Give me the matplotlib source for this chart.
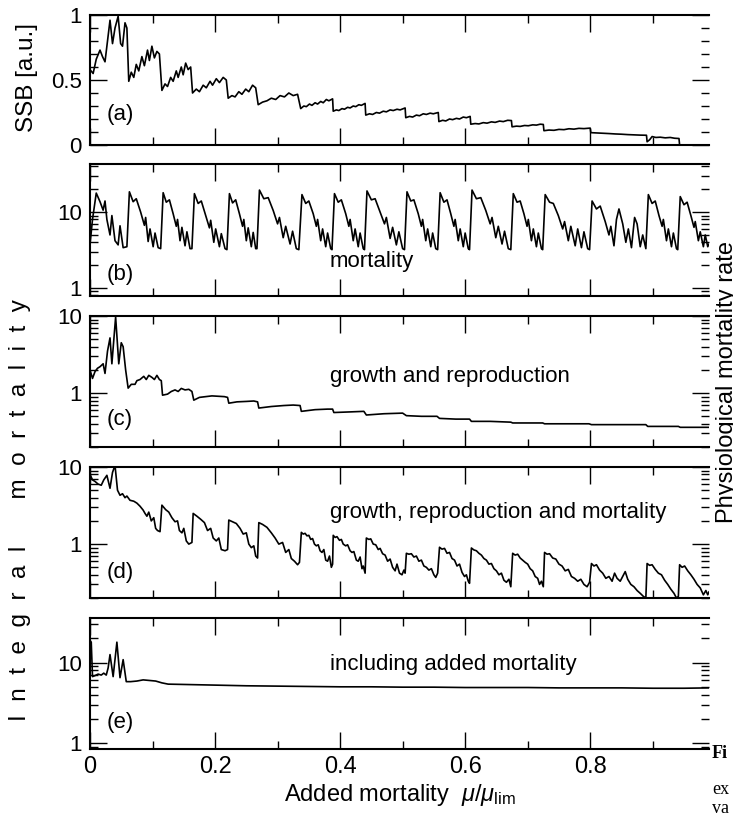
import matplotlib
matplotlib.use("Agg")
import matplotlib.pyplot as plt
from matplotlib.ticker import FixedLocator, MultipleLocator, LogLocator, NullFormatter

plt.rcParams['font.family'] = ['Liberation Sans', 'DejaVu Sans']
plt.rcParams['mathtext.fontset'] = 'custom'
plt.rcParams['mathtext.rm'] = 'Liberation Sans'
plt.rcParams['mathtext.it'] = 'Liberation Sans:italic'

# === 1. Data ===
# (a) spawning stock biomass
ssb_pts = [
    (0.000, 0.58), (0.005, 0.55), (0.010, 0.66), (0.016, 0.73), (0.020, 0.68), (0.024, 0.64),
    (0.028, 0.80), (0.032, 0.96), (0.036, 0.78), (0.040, 0.90), (0.045, 0.99), (0.049, 0.78),
    (0.052, 0.76), (0.056, 0.94), (0.059, 0.90), (0.062, 0.49),
    (0.066, 0.56), (0.070, 0.52), (0.074, 0.62), (0.078, 0.57), (0.083, 0.68), (0.087, 0.61),
    (0.092, 0.73), (0.095, 0.65), (0.099, 0.76), (0.103, 0.67), (0.107, 0.72), (0.111, 0.70),
    (0.115, 0.42),
    (0.120, 0.47), (0.124, 0.45), (0.129, 0.52), (0.133, 0.49), (0.138, 0.57), (0.141, 0.52),
    (0.146, 0.60), (0.149, 0.54), (0.153, 0.63), (0.157, 0.58), (0.161, 0.60), (0.164, 0.40),
    (0.170, 0.43), (0.175, 0.41), (0.181, 0.46), (0.186, 0.44), (0.192, 0.49), (0.196, 0.46),
    (0.202, 0.51), (0.207, 0.48), (0.213, 0.52), (0.218, 0.50), (0.221, 0.36),
    (0.227, 0.38), (0.232, 0.37), (0.238, 0.41), (0.243, 0.39), (0.249, 0.43), (0.254, 0.41),
    (0.260, 0.46), (0.265, 0.44), (0.269, 0.31),
    (0.276, 0.33), (0.283, 0.34), (0.290, 0.36), (0.297, 0.35), (0.304, 0.38), (0.311, 0.37),
    (0.318, 0.40), (0.325, 0.38), (0.332, 0.39), (0.337, 0.28),
    (0.342, 0.30), (0.346, 0.295), (0.351, 0.315), (0.355, 0.305), (0.360, 0.325), (0.364, 0.315),
    (0.369, 0.335), (0.373, 0.325), (0.378, 0.35), (0.382, 0.34), (0.388, 0.355), (0.389, 0.26),
    (0.394, 0.27), (0.398, 0.265), (0.403, 0.28), (0.407, 0.275), (0.412, 0.29), (0.416, 0.285),
    (0.421, 0.30), (0.425, 0.295), (0.430, 0.31), (0.434, 0.305), (0.440, 0.32), (0.441, 0.23),
    (0.447, 0.24), (0.452, 0.235), (0.458, 0.25), (0.463, 0.245), (0.469, 0.26), (0.474, 0.255),
    (0.480, 0.27), (0.485, 0.265), (0.491, 0.275), (0.496, 0.27), (0.504, 0.285), (0.505, 0.21),
    (0.511, 0.22), (0.516, 0.215), (0.522, 0.23), (0.527, 0.225), (0.533, 0.24), (0.538, 0.235),
    (0.544, 0.245), (0.549, 0.24), (0.557, 0.25), (0.558, 0.18),
    (0.564, 0.19), (0.569, 0.185), (0.575, 0.20), (0.580, 0.195), (0.586, 0.205), (0.591, 0.20),
    (0.597, 0.215), (0.602, 0.21), (0.608, 0.22), (0.609, 0.16),
    (0.616, 0.165), (0.622, 0.162), (0.629, 0.172), (0.635, 0.168), (0.642, 0.178), (0.648, 0.174),
    (0.655, 0.184), (0.661, 0.18), (0.668, 0.19), (0.674, 0.188), (0.675, 0.14),
    (0.682, 0.145), (0.688, 0.143), (0.695, 0.15), (0.701, 0.148), (0.708, 0.155), (0.714, 0.153),
    (0.720, 0.16), (0.725, 0.158), (0.726, 0.11),
    (0.734, 0.115), (0.742, 0.113), (0.750, 0.12), (0.758, 0.118), (0.766, 0.125), (0.774, 0.122),
    (0.782, 0.128), (0.790, 0.126), (0.800, 0.13), (0.801, 0.095),
    (0.810, 0.093), (0.820, 0.09), (0.830, 0.088), (0.840, 0.085), (0.850, 0.083), (0.860, 0.08),
    (0.870, 0.078), (0.880, 0.076), (0.890, 0.075), (0.891, 0.025),
    (0.895, 0.04), (0.899, 0.065), (0.905, 0.058), (0.912, 0.06), (0.920, 0.055), (0.928, 0.058),
    (0.935, 0.052), (0.942, 0.05), (0.943, 0.0), (0.990, 0.0),
]

# (b) mortality
mort_pts = [
    (0.000, 3.7), (0.004, 8.0), (0.010, 17.8), (0.016, 13.7), (0.021, 10.6), (0.024, 14.0),
    (0.027, 8.0), (0.032, 5.0), (0.035, 9.0), (0.040, 4.2), (0.045, 3.7), (0.048, 6.6),
    (0.053, 3.4), (0.059, 3.5),
    (0.063, 18.5), (0.069, 13.7), (0.074, 15.0), (0.081, 10.0), (0.087, 6.7), (0.089, 8.5),
    (0.093, 4.1), (0.096, 6.0), (0.101, 3.5), (0.104, 5.3), (0.109, 3.4), (0.113, 3.3),
    (0.117, 18.0), (0.122, 13.5), (0.127, 14.5), (0.133, 9.5), (0.138, 6.5), (0.140, 8.0),
    (0.144, 4.2), (0.147, 6.3), (0.152, 3.6), (0.155, 5.5), (0.160, 3.3), (0.163, 3.3),
    (0.167, 17.5), (0.173, 13.0), (0.178, 14.0), (0.185, 9.0), (0.191, 6.2), (0.193, 7.8),
    (0.198, 4.0), (0.201, 6.0), (0.207, 3.5), (0.210, 5.2), (0.216, 3.3), (0.219, 3.2),
    (0.223, 17.5), (0.228, 13.2), (0.233, 14.5), (0.239, 9.5), (0.244, 6.5), (0.246, 8.0),
    (0.250, 4.2), (0.253, 6.2), (0.258, 3.5), (0.261, 5.4), (0.265, 3.3), (0.267, 3.3),
    (0.271, 19.5), (0.278, 15.0), (0.285, 15.5), (0.293, 10.5), (0.300, 7.0), (0.303, 8.5),
    (0.309, 4.6), (0.313, 6.5), (0.320, 3.8), (0.324, 5.6), (0.330, 3.3), (0.334, 3.2),
    (0.339, 17.0), (0.345, 13.0), (0.350, 14.0), (0.357, 9.5), (0.362, 6.5), (0.364, 8.0),
    (0.369, 4.2), (0.372, 6.0), (0.377, 3.5), (0.380, 5.3), (0.385, 3.3), (0.387, 3.2),
    (0.391, 17.5), (0.397, 13.5), (0.402, 14.5), (0.409, 9.5), (0.414, 6.5), (0.416, 8.0),
    (0.421, 4.2), (0.424, 6.0), (0.429, 3.5), (0.432, 5.3), (0.437, 3.3), (0.439, 3.2),
    (0.443, 19.0), (0.450, 14.5), (0.456, 15.0), (0.464, 10.0), (0.471, 7.0), (0.474, 8.5),
    (0.480, 4.5), (0.484, 6.3), (0.490, 3.7), (0.494, 5.5), (0.500, 3.3), (0.503, 3.2),
    (0.507, 18.5), (0.513, 14.0), (0.518, 14.5), (0.525, 9.5), (0.530, 6.5), (0.532, 8.0),
    (0.537, 4.2), (0.540, 6.0), (0.545, 3.5), (0.548, 5.3), (0.553, 3.3), (0.556, 3.2),
    (0.560, 18.0), (0.566, 13.5), (0.571, 14.5), (0.577, 9.5), (0.582, 6.5), (0.584, 8.0),
    (0.589, 4.2), (0.592, 6.0), (0.597, 3.5), (0.600, 5.3), (0.605, 3.3), (0.607, 3.2),
    (0.611, 19.5), (0.618, 15.0), (0.625, 15.5), (0.633, 10.5), (0.640, 7.0), (0.643, 8.5),
    (0.649, 4.6), (0.653, 6.5), (0.659, 3.8), (0.663, 5.6), (0.669, 3.3), (0.673, 3.2),
    (0.677, 17.5), (0.683, 13.5), (0.688, 14.0), (0.694, 9.5), (0.699, 6.5), (0.701, 8.0),
    (0.706, 4.2), (0.709, 6.0), (0.714, 3.5), (0.717, 5.3), (0.722, 3.3), (0.724, 3.2),
    (0.728, 17.0), (0.735, 13.5), (0.741, 13.0), (0.749, 9.0), (0.756, 6.0), (0.759, 7.5),
    (0.765, 4.2), (0.769, 6.5), (0.776, 3.6), (0.780, 6.0), (0.786, 3.4), (0.790, 5.5),
    (0.796, 3.3), (0.799, 3.2),
    (0.803, 14.0), (0.810, 11.0), (0.816, 12.0), (0.824, 7.5), (0.830, 5.0), (0.833, 6.5),
    (0.838, 3.6), (0.842, 8.0), (0.846, 11.0), (0.852, 7.0), (0.857, 4.0), (0.861, 6.0),
    (0.866, 3.4), (0.871, 8.5), (0.875, 7.0), (0.880, 3.5), (0.884, 5.0), (0.889, 3.3),
    (0.893, 17.0), (0.899, 13.0), (0.904, 14.0), (0.910, 9.0), (0.915, 6.5), (0.917, 8.0),
    (0.922, 4.2), (0.925, 6.0), (0.930, 3.5), (0.933, 5.3), (0.938, 3.3), (0.940, 3.2),
    (0.944, 16.0), (0.950, 12.5), (0.955, 13.5), (0.961, 9.0), (0.966, 6.3), (0.968, 7.5),
    (0.973, 4.2), (0.976, 5.5), (0.981, 3.5), (0.984, 5.0), (0.988, 3.5), (0.990, 3.8),
]

# (c) growth and reproduction
growth_pts = [
    (0.000, 2.0), (0.004, 1.55), (0.008, 1.9), (0.012, 2.1), (0.016, 2.2), (0.021, 2.4),
    (0.024, 1.8), (0.028, 3.5), (0.032, 5.2), (0.035, 2.4), (0.041, 9.7), (0.046, 2.4),
    (0.050, 4.5), (0.053, 4.0), (0.057, 2.0), (0.061, 1.16), (0.066, 1.3), (0.072, 1.3),
    (0.075, 1.45), (0.080, 1.5), (0.086, 1.65), (0.090, 1.5), (0.094, 1.7), (0.099, 1.6),
    (0.103, 1.5), (0.107, 1.7), (0.111, 1.5), (0.114, 1.45), (0.116, 0.94), (0.124, 0.97),
    (0.130, 1.05), (0.136, 1.1), (0.141, 1.05), (0.146, 1.15), (0.152, 1.1), (0.158, 1.12),
    (0.163, 1.05), (0.166, 0.81), (0.175, 0.88), (0.185, 0.9), (0.195, 0.92), (0.205, 0.91),
    (0.215, 0.9), (0.220, 0.88), (0.222, 0.74), (0.235, 0.77), (0.250, 0.78), (0.262, 0.79),
    (0.268, 0.77), (0.270, 0.64), (0.290, 0.67), (0.310, 0.69), (0.325, 0.70), (0.336, 0.69),
    (0.338, 0.58), (0.360, 0.61), (0.380, 0.62), (0.388, 0.62), (0.390, 0.56), (0.415, 0.57),
    (0.438, 0.58), (0.442, 0.52), (0.470, 0.54), (0.500, 0.55), (0.506, 0.51), (0.530, 0.50),
    (0.555, 0.50), (0.559, 0.47), (0.585, 0.46), (0.607, 0.46), (0.610, 0.43), (0.640, 0.43),
    (0.673, 0.42), (0.676, 0.41), (0.700, 0.41), (0.724, 0.41), (0.727, 0.40), (0.760, 0.40),
    (0.798, 0.40), (0.802, 0.39), (0.850, 0.39), (0.889, 0.39), (0.892, 0.37), (0.920, 0.37),
    (0.941, 0.37), (0.944, 0.36), (0.990, 0.36),
]

# (d) growth, reproduction and mortality
total_pts = [
    (0.000, 8.0), (0.004, 6.8), (0.008, 6.5), (0.013, 6.0), (0.018, 5.8), (0.022, 6.8),
    (0.027, 7.8), (0.032, 5.3), (0.036, 8.5), (0.040, 10.5), (0.044, 5.0), (0.048, 4.3),
    (0.052, 4.5), (0.056, 4.0), (0.059, 4.2), (0.064, 3.7), (0.070, 3.6), (0.075, 3.4),
    (0.080, 3.1), (0.085, 2.76), (0.088, 2.5), (0.091, 2.3), (0.094, 2.6), (0.098, 2.0),
    (0.102, 2.2), (0.105, 1.6), (0.108, 1.5), (0.112, 1.45),
    (0.115, 3.2), (0.121, 2.8), (0.126, 2.6), (0.131, 2.2), (0.136, 1.95), (0.140, 2.0),
    (0.143, 1.5), (0.147, 1.4), (0.150, 1.6), (0.154, 1.1), (0.158, 1.0), (0.163, 1.05),
    (0.165, 2.5), (0.171, 2.3), (0.177, 2.1), (0.183, 1.9), (0.188, 1.5), (0.193, 1.6),
    (0.197, 1.2), (0.202, 1.1), (0.206, 1.2), (0.210, 0.85), (0.216, 0.82), (0.220, 0.85),
    (0.222, 2.05), (0.228, 1.95), (0.234, 1.85), (0.240, 1.6), (0.245, 1.35), (0.250, 1.4),
    (0.254, 1.0), (0.258, 0.9), (0.262, 0.95), (0.265, 0.70), (0.268, 0.66),
    (0.270, 1.9), (0.276, 1.8), (0.283, 1.65), (0.290, 1.4), (0.296, 1.2), (0.302, 1.0),
    (0.308, 1.05), (0.313, 0.78), (0.318, 0.85), (0.322, 0.65), (0.327, 0.6), (0.332, 0.54),
    (0.335, 0.58),
    (0.338, 1.42), (0.341, 1.35), (0.344, 1.38), (0.347, 1.28), (0.350, 1.3), (0.353, 1.15),
    (0.356, 1.18), (0.359, 1.0), (0.362, 0.95), (0.365, 0.98), (0.368, 0.82), (0.371, 0.78),
    (0.374, 0.85), (0.377, 0.62), (0.380, 0.6), (0.383, 0.7), (0.386, 0.5), (0.388, 0.55),
    (0.389, 1.3), (0.392, 1.22), (0.395, 1.25), (0.399, 1.12), (0.402, 1.15), (0.405, 1.0),
    (0.409, 0.95), (0.412, 0.98), (0.416, 0.82), (0.419, 0.78), (0.422, 0.8), (0.426, 0.62),
    (0.429, 0.6), (0.432, 0.68), (0.435, 0.48), (0.437, 0.52), (0.440, 0.42),
    (0.442, 1.2), (0.446, 1.15), (0.449, 1.17), (0.453, 1.0), (0.457, 0.98), (0.461, 0.85),
    (0.464, 0.88), (0.468, 0.75), (0.472, 0.72), (0.476, 0.6), (0.480, 0.64), (0.484, 0.5),
    (0.488, 0.45), (0.491, 0.55), (0.495, 0.42), (0.499, 0.40), (0.502, 0.46), (0.504, 0.42),
    (0.506, 0.76), (0.510, 0.74), (0.514, 0.75), (0.518, 0.68), (0.522, 0.7), (0.526, 0.6),
    (0.530, 0.62), (0.534, 0.52), (0.538, 0.5), (0.542, 0.46), (0.546, 0.48), (0.550, 0.4),
    (0.553, 0.37), (0.556, 0.42),
    (0.559, 0.91), (0.563, 0.86), (0.567, 0.88), (0.571, 0.76), (0.575, 0.78), (0.579, 0.65),
    (0.583, 0.62), (0.587, 0.52), (0.591, 0.55), (0.595, 0.43), (0.599, 0.38), (0.602, 0.4),
    (0.605, 0.33), (0.607, 0.31),
    (0.610, 0.89), (0.614, 0.84), (0.618, 0.82), (0.622, 0.76), (0.626, 0.72), (0.630, 0.65),
    (0.634, 0.62), (0.638, 0.55), (0.642, 0.56), (0.646, 0.48), (0.650, 0.45), (0.654, 0.4),
    (0.658, 0.42), (0.662, 0.34), (0.666, 0.32), (0.670, 0.35), (0.673, 0.28),
    (0.676, 0.76), (0.680, 0.72), (0.684, 0.74), (0.688, 0.66), (0.692, 0.62), (0.696, 0.58),
    (0.700, 0.55), (0.704, 0.48), (0.708, 0.45), (0.712, 0.38), (0.716, 0.36), (0.719, 0.3),
    (0.722, 0.33), (0.725, 0.28),
    (0.727, 0.78), (0.731, 0.74), (0.735, 0.75), (0.740, 0.66), (0.745, 0.64), (0.750, 0.55),
    (0.755, 0.52), (0.760, 0.45), (0.765, 0.47), (0.770, 0.38), (0.775, 0.36), (0.780, 0.33),
    (0.785, 0.35), (0.790, 0.3), (0.795, 0.28), (0.799, 0.32),
    (0.802, 0.56), (0.806, 0.52), (0.810, 0.54), (0.815, 0.46), (0.820, 0.42), (0.825, 0.36),
    (0.830, 0.38), (0.835, 0.33), (0.839, 0.42), (0.843, 0.36), (0.848, 0.33), (0.852, 0.38),
    (0.856, 0.44), (0.860, 0.35), (0.865, 0.3), (0.870, 0.28), (0.875, 0.25), (0.880, 0.23),
    (0.885, 0.21), (0.889, 0.2),
    (0.891, 0.56), (0.895, 0.53), (0.899, 0.54), (0.904, 0.47), (0.909, 0.42), (0.914, 0.4),
    (0.919, 0.34), (0.924, 0.3), (0.929, 0.26), (0.934, 0.23), (0.938, 0.2), (0.941, 0.21),
    (0.943, 0.54), (0.947, 0.5), (0.951, 0.52), (0.956, 0.45), (0.961, 0.4), (0.966, 0.35),
    (0.971, 0.3), (0.976, 0.27), (0.981, 0.22), (0.985, 0.25), (0.988, 0.22), (0.990, 0.24),
]

# (e) including added mortality
added_pts = [
    (0.000, 19.0), (0.002, 18.0), (0.004, 6.7), (0.008, 6.9), (0.013, 7.2), (0.018, 7.0),
    (0.022, 7.4), (0.026, 7.0), (0.029, 8.6), (0.032, 12.6), (0.037, 6.7), (0.043, 18.0),
    (0.048, 6.5), (0.053, 10.9), (0.058, 5.8), (0.065, 5.8), (0.075, 5.9), (0.085, 6.1),
    (0.095, 6.0), (0.105, 5.9), (0.115, 5.6), (0.125, 5.4), (0.150, 5.35), (0.200, 5.25),
    (0.250, 5.15), (0.300, 5.1), (0.350, 5.05), (0.400, 5.0), (0.450, 5.0), (0.500, 4.95),
    (0.550, 4.95), (0.600, 4.9), (0.650, 4.9), (0.700, 4.9), (0.750, 4.85), (0.800, 4.85),
    (0.850, 4.85), (0.900, 4.8), (0.950, 4.8), (0.990, 4.85),
]

panel_tags = ["(a)", "(b)", "(c)", "(d)", "(e)"]
panel_notes = ["", "mortality", "growth and reproduction",
               "growth, reproduction and mortality", "including added mortality"]
x_ticks = [0, 0.2, 0.4, 0.6, 0.8]
x_tick_labels = ["0", "0.2", "0.4", "0.6", "0.8"]

# === 2. Layout (pixels of a 733x818 canvas) ===
W, H = 733, 818
fig = plt.figure(figsize=(W / 100, H / 100), dpi=100)


def fx(px):
    return px / W


def fy(py):
    return 1 - py / H


left, right = 90, 709
rows = [(15, 145), (164, 296), (316, 447), (467, 598), (618, 749)]
ylims = [(0, 1), (0.785, 43), (0.2, 10), (0.2, 10), (0.84, 36)]
tag_base = [120, 280, 425, 578, 728]
note_base = [0, 267, 382, 518, 670]
series = [ssb_pts, mort_pts, growth_pts, total_pts, added_pts]

axes = []
for i, (top, bot) in enumerate(rows):
    ax = fig.add_axes([fx(left), fy(bot), fx(right - left), (bot - top) / H])
    xs = [p[0] for p in series[i]]
    ys = [p[1] for p in series[i]]
    ax.plot(xs, ys, color="black", lw=1.2)
    ax.set_xlim(0, 0.99)
    if i == 0:
        ax.set_ylim(*ylims[i])
        ax.yaxis.set_major_locator(FixedLocator([0, 0.5, 1]))
        ax.set_yticklabels(["0", "0.5", "1"])
        ax.yaxis.set_minor_locator(MultipleLocator(0.1))
    else:
        ax.set_yscale("log")
        ax.set_ylim(*ylims[i])
        ax.yaxis.set_major_locator(FixedLocator([1, 10]))
        ax.set_yticklabels(["1", "10"])
        ax.yaxis.set_minor_locator(LogLocator(base=10, subs=range(2, 10)))
        ax.yaxis.set_minor_formatter(NullFormatter())
    ax.xaxis.set_major_locator(FixedLocator(x_ticks))
    ax.xaxis.set_minor_locator(MultipleLocator(0.1))
    if i == len(rows) - 1:
        ax.set_xticklabels(x_tick_labels)
    else:
        ax.set_xticklabels([])
    ax.tick_params(which="both", direction="in", top=True, right=True, width=1.0)
    ax.tick_params(which="major", length=12)
    ax.tick_params(which="minor", length=6)
    ax.tick_params(axis="y", labelsize=16, pad=6)
    ax.tick_params(axis="x", labelsize=17, pad=5)
    ax.spines["right"].set_visible(False)
    for s in ("left", "top", "bottom"):
        ax.spines[s].set_linewidth(1.5)
    axes.append(ax)

    fig.text(fx(107), fy(tag_base[i]), panel_tags[i], fontsize=16, va="baseline")
    if panel_notes[i]:
        fig.text(fx(330), fy(note_base[i]), panel_notes[i], fontsize=16, va="baseline")

axes[-1].set_xlabel(r"Added mortality  $\mu/\mu_{\mathrm{lim}}$", fontsize=17, labelpad=3)

fig.text(fx(27), fy(78), "SSB [a.u.]", rotation=90, ha="center", va="center", fontsize=17.5)
fig.text(fx(20), fy(510), "I  n  t  e  g  r  a  l       m  o  r  t  a  l  i  t  y",
         rotation=90, ha="center", va="center", fontsize=17.5)
# the reference is cropped through this label, as here
fig.text(fx(716), fy(382), "Physiological mortality rate", rotation=90,
         ha="left", va="center", fontsize=17)

# fragments of the neighbouring caption at the crop edge
serif = ["Liberation Serif", "DejaVu Serif"]
fig.text(fx(712), fy(758), "Fi", fontsize=13, fontweight="bold", family=serif, va="baseline")
fig.text(fx(712), fy(794), "ex", fontsize=13, family=serif, va="baseline")
fig.text(fx(712), fy(813), "va", fontsize=13, family=serif, va="baseline")

fig.savefig("out.png", dpi=100)
